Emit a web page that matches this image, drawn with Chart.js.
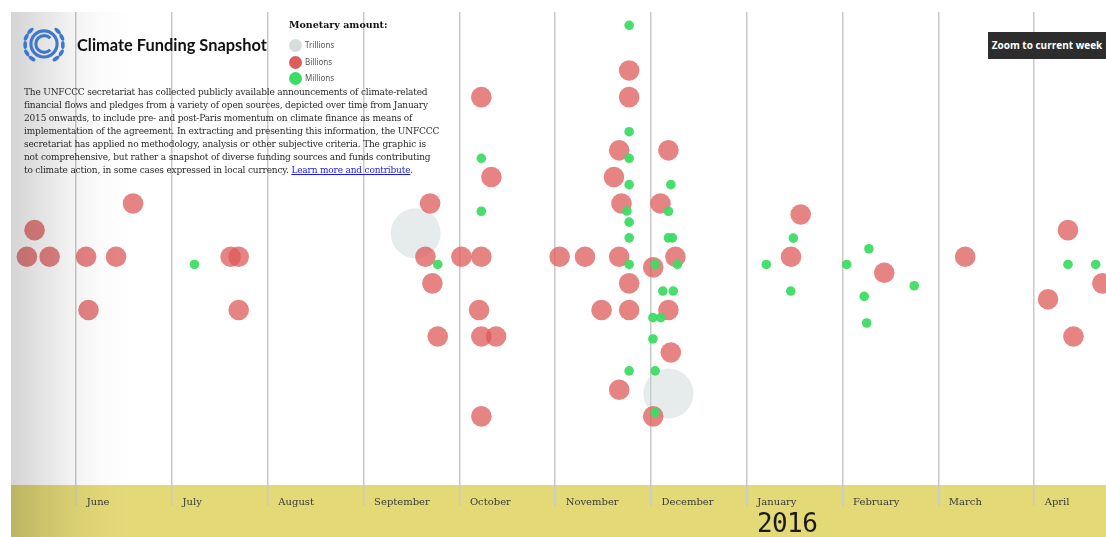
<!DOCTYPE html>
<html><head><meta charset="utf-8">
<script src="https://cdn.jsdelivr.net/npm/chart.js@4.4.0/dist/chart.umd.min.js"></script>
<style>
html,body{margin:0;padding:0;background:#fff;}
#wrap{position:relative;width:1106px;height:537px;overflow:hidden;}
#c{position:absolute;left:0;top:0;}
.ov{position:absolute;white-space:nowrap;}
#logo{left:21px;top:26px;}
#title{left:77px;top:35px;font:bold 16.4px Lato,'Noto Sans',sans-serif;color:#111;}
#para{left:24px;top:86px;font:9px 'DejaVu Serif',serif;line-height:13px;color:#2a2a2a;letter-spacing:-0.18px;}
#para a{color:#1a1aee;text-decoration:underline;}
#mon{left:289px;top:19px;font:bold 9.5px 'DejaVu Serif',serif;color:#111;}
.lg{left:289px;font:8px 'Noto Sans',sans-serif;color:#555;line-height:13px;}
.lg span{display:inline-block;width:13px;height:13px;border-radius:50%;vertical-align:middle;margin-right:3px;}
#btn{left:988px;top:32px;width:118px;height:27px;background:#2d2d2d;color:#fff;font:bold 10px 'Open Sans',sans-serif;line-height:27px;text-align:center;}
#year{left:757px;top:508px;font:26px 'DejaVu Sans Mono',monospace;color:#1a1a1a;letter-spacing:-0.6px;}
</style></head>
<body>
<div id="wrap">
<canvas id="c" width="1106" height="537"></canvas>
<svg id="logo" class="ov" width="46" height="38" viewBox="0 0 44 36">
  <g fill="#3e78cc">
    <ellipse cx="4" cy="18" rx="1.8" ry="3.8"/>
    <ellipse cx="5" cy="10.5" rx="1.8" ry="3.8" transform="rotate(25 5 10.5)"/>
    <ellipse cx="9" cy="4.5" rx="1.8" ry="3.8" transform="rotate(45 9 4.5)"/>
    <ellipse cx="5.5" cy="25.5" rx="1.8" ry="3.8" transform="rotate(-30 5.5 25.5)"/>
    <ellipse cx="10.5" cy="31" rx="1.8" ry="3.8" transform="rotate(-55 10.5 31)"/>
    <ellipse cx="40" cy="18" rx="1.8" ry="3.8"/>
    <ellipse cx="39" cy="10.5" rx="1.8" ry="3.8" transform="rotate(-25 39 10.5)"/>
    <ellipse cx="35" cy="4.5" rx="1.8" ry="3.8" transform="rotate(-45 35 4.5)"/>
    <ellipse cx="38.5" cy="25.5" rx="1.8" ry="3.8" transform="rotate(30 38.5 25.5)"/>
    <ellipse cx="33.5" cy="31" rx="1.8" ry="3.8" transform="rotate(55 33.5 31)"/>
  </g>
  <circle cx="22" cy="17" r="12.5" fill="none" stroke="#3e78cc" stroke-width="3"/>
  <path d="M28 11.5 A8 8 0 1 0 28 22.5" fill="none" stroke="#3e78cc" stroke-width="3"/>
</svg>
<div id="title" class="ov">Climate Funding Snapshot</div>
<div id="para" class="ov">The UNFCCC secretariat has collected publicly available announcements of climate-related<br>financial flows and pledges from a variety of open sources, depicted over time from January<br>2015 onwards, to include pre- and post-Paris momentum on climate finance as means of<br>implementation of the agreement. In extracting and presenting this information, the UNFCCC<br>secretariat has applied no methodology, analysis or other subjective criteria. The graphic is<br>not comprehensive, but rather a snapshot of diverse funding sources and funds contributing<br>to climate action, in some cases expressed in local currency. <a>Learn more and contribute</a>.</div>
<div id="mon" class="ov">Monetary amount:</div>
<div class="ov lg" style="top:38px"><span style="background:#d5dedd"></span>Trillions</div>
<div class="ov lg" style="top:55px"><span style="background:#dd5c5c"></span>Billions</div>
<div class="ov lg" style="top:71px"><span style="background:#3ddc64"></span>Millions</div>
<div id="btn" class="ov">Zoom to current week</div>
<div id="year" class="ov">2016</div>
</div>
<script>
// x = months since 1 June 2015; y = vertical lane of the bubble
const monthLabels = ['June','July','August','September','October','November','December','January','February','March','April'];
const monthTicks = [0,1,2,3,4,5,6,7,8,9,10];

const trillionsX = [3.544, 6.182];
const trillionsY = [0.88, -5.14];

const billionsX = [-0.515,-0.278,-0.435,0.103,0.416,0.128,0.593,1.612,1.696,1.696,
  3.694,3.645,3.718,3.774,4.021,4.229,4.229,4.334,4.205,4.229,
  4.383,4.229,5.046,5.311,5.668,5.772,5.772,5.668,6.182,5.613,
  5.692,6.099,6.023,6.255,5.772,5.484,5.772,6.182,6.207,5.668,
  6.023,7.563,7.462,8.435,9.28,10.353,10.145,10.41,10.712];
const billionsY = [0,0,1,0,0,-2,2,0,0,-2,
  2,0,-1,-3,0,0,6,3,-2,-3,
  -3,-6,0,0,0,7,6,4,4,3,
  2,2,-0.4,0,-1,-2,-2,-2,-3.6,-5,
  -6,1.59,0,-0.6,0,1,-1.6,-3,-1];

const millionsX = [1.234,3.774,4.229,4.229,5.772,5.772,5.772,5.772,6.207,5.749,
  6.182,5.772,5.772,6.182,6.224,5.772,6.044,6.276,6.124,6.232,
  6.02,6.103,6.02,5.772,6.044,6.044,7.486,7.204,7.459,8.275,
  8.043,8.748,8.226,8.252,10.353,10.642];
const millionsY = [-0.29,-0.29,3.7,1.71,8.7,4.7,3.7,2.71,2.71,1.72,
  1.71,1.3,0.71,0.71,0.71,-0.29,-0.29,-0.29,-1.29,-1.29,
  -2.29,-2.29,-3.09,-4.29,-4.29,-5.86,0.7,-0.29,-1.29,0.3,
  -0.29,-1.09,-1.49,-2.49,-0.29,-0.29];

const pts = (xs, ys) => xs.map((x, i) => ({x: x, y: ys[i]}));

const bandPlugin = {
  id: 'band',
  beforeDraw(chart) {
    const {ctx, chartArea} = chart;
    ctx.save();
    ctx.fillStyle = '#e3d977';
    ctx.fillRect(chartArea.left, chartArea.bottom, chartArea.right - chartArea.left, chart.height - chartArea.bottom);
    ctx.restore();
  },
  afterDraw(chart) {
    const {ctx, chartArea} = chart;
    const xs = chart.scales.x;
    ctx.save();
    const w = 120;
    const g = ctx.createLinearGradient(chartArea.left, 0, chartArea.left + w, 0);
    g.addColorStop(0, 'rgba(0,0,0,0.17)');
    g.addColorStop(0.25, 'rgba(0,0,0,0.11)');
    g.addColorStop(0.5, 'rgba(0,0,0,0.05)');
    g.addColorStop(0.75, 'rgba(0,0,0,0.015)');
    g.addColorStop(1, 'rgba(0,0,0,0)');
    ctx.fillStyle = g;
    ctx.fillRect(chartArea.left, chartArea.top, w, chart.height - chartArea.top);
    ctx.fillStyle = '#3a3a3a';
    ctx.font = '10px "DejaVu Serif", serif';
    ctx.textBaseline = 'middle';
    ctx.textAlign = 'left';
    monthTicks.forEach((v, i) => {
      ctx.fillText(monthLabels[i], xs.getPixelForValue(v) + 10.5, chartArea.bottom + 17);
    });
    ctx.restore();
  }
};

new Chart(document.getElementById('c'), {
  type: 'bubble',
  data: {
    datasets: [
      {label: 'Trillions', data: pts(trillionsX, trillionsY), radius: 25, order: 2,
       backgroundColor: 'rgba(200,213,211,0.45)', borderWidth: 0},
      {label: 'Billions', data: pts(billionsX, billionsY), radius: 10.3, order: 1,
       backgroundColor: 'rgba(221,90,90,0.75)', borderWidth: 0},
      {label: 'Millions', data: pts(millionsX, millionsY), radius: 4.8, order: 0,
       backgroundColor: 'rgba(61,220,100,0.95)', borderWidth: 0}
    ]
  },
  options: {
    responsive: false,
    animation: false,
    events: [],
    layout: {autoPadding: false, padding: {left: 11, top: 12, right: 0, bottom: 31}},
    plugins: {legend: {display: false}, tooltip: {enabled: false}},
    scales: {
      x: {
        type: 'linear', position: 'bottom', min: -0.681, max: 10.75,
        afterBuildTicks(scale) { scale.ticks = monthTicks.map(v => ({value: v})); },
        grid: {color: '#c9c9c9', lineWidth: 1.5, tickLength: 21, drawTicks: true},
        border: {display: false},
        ticks: {display: false}
      },
      y: {type: 'linear', min: -8.58, max: 9.2, display: false}
    }
  },
  plugins: [bandPlugin]
});
</script>
</body></html>
